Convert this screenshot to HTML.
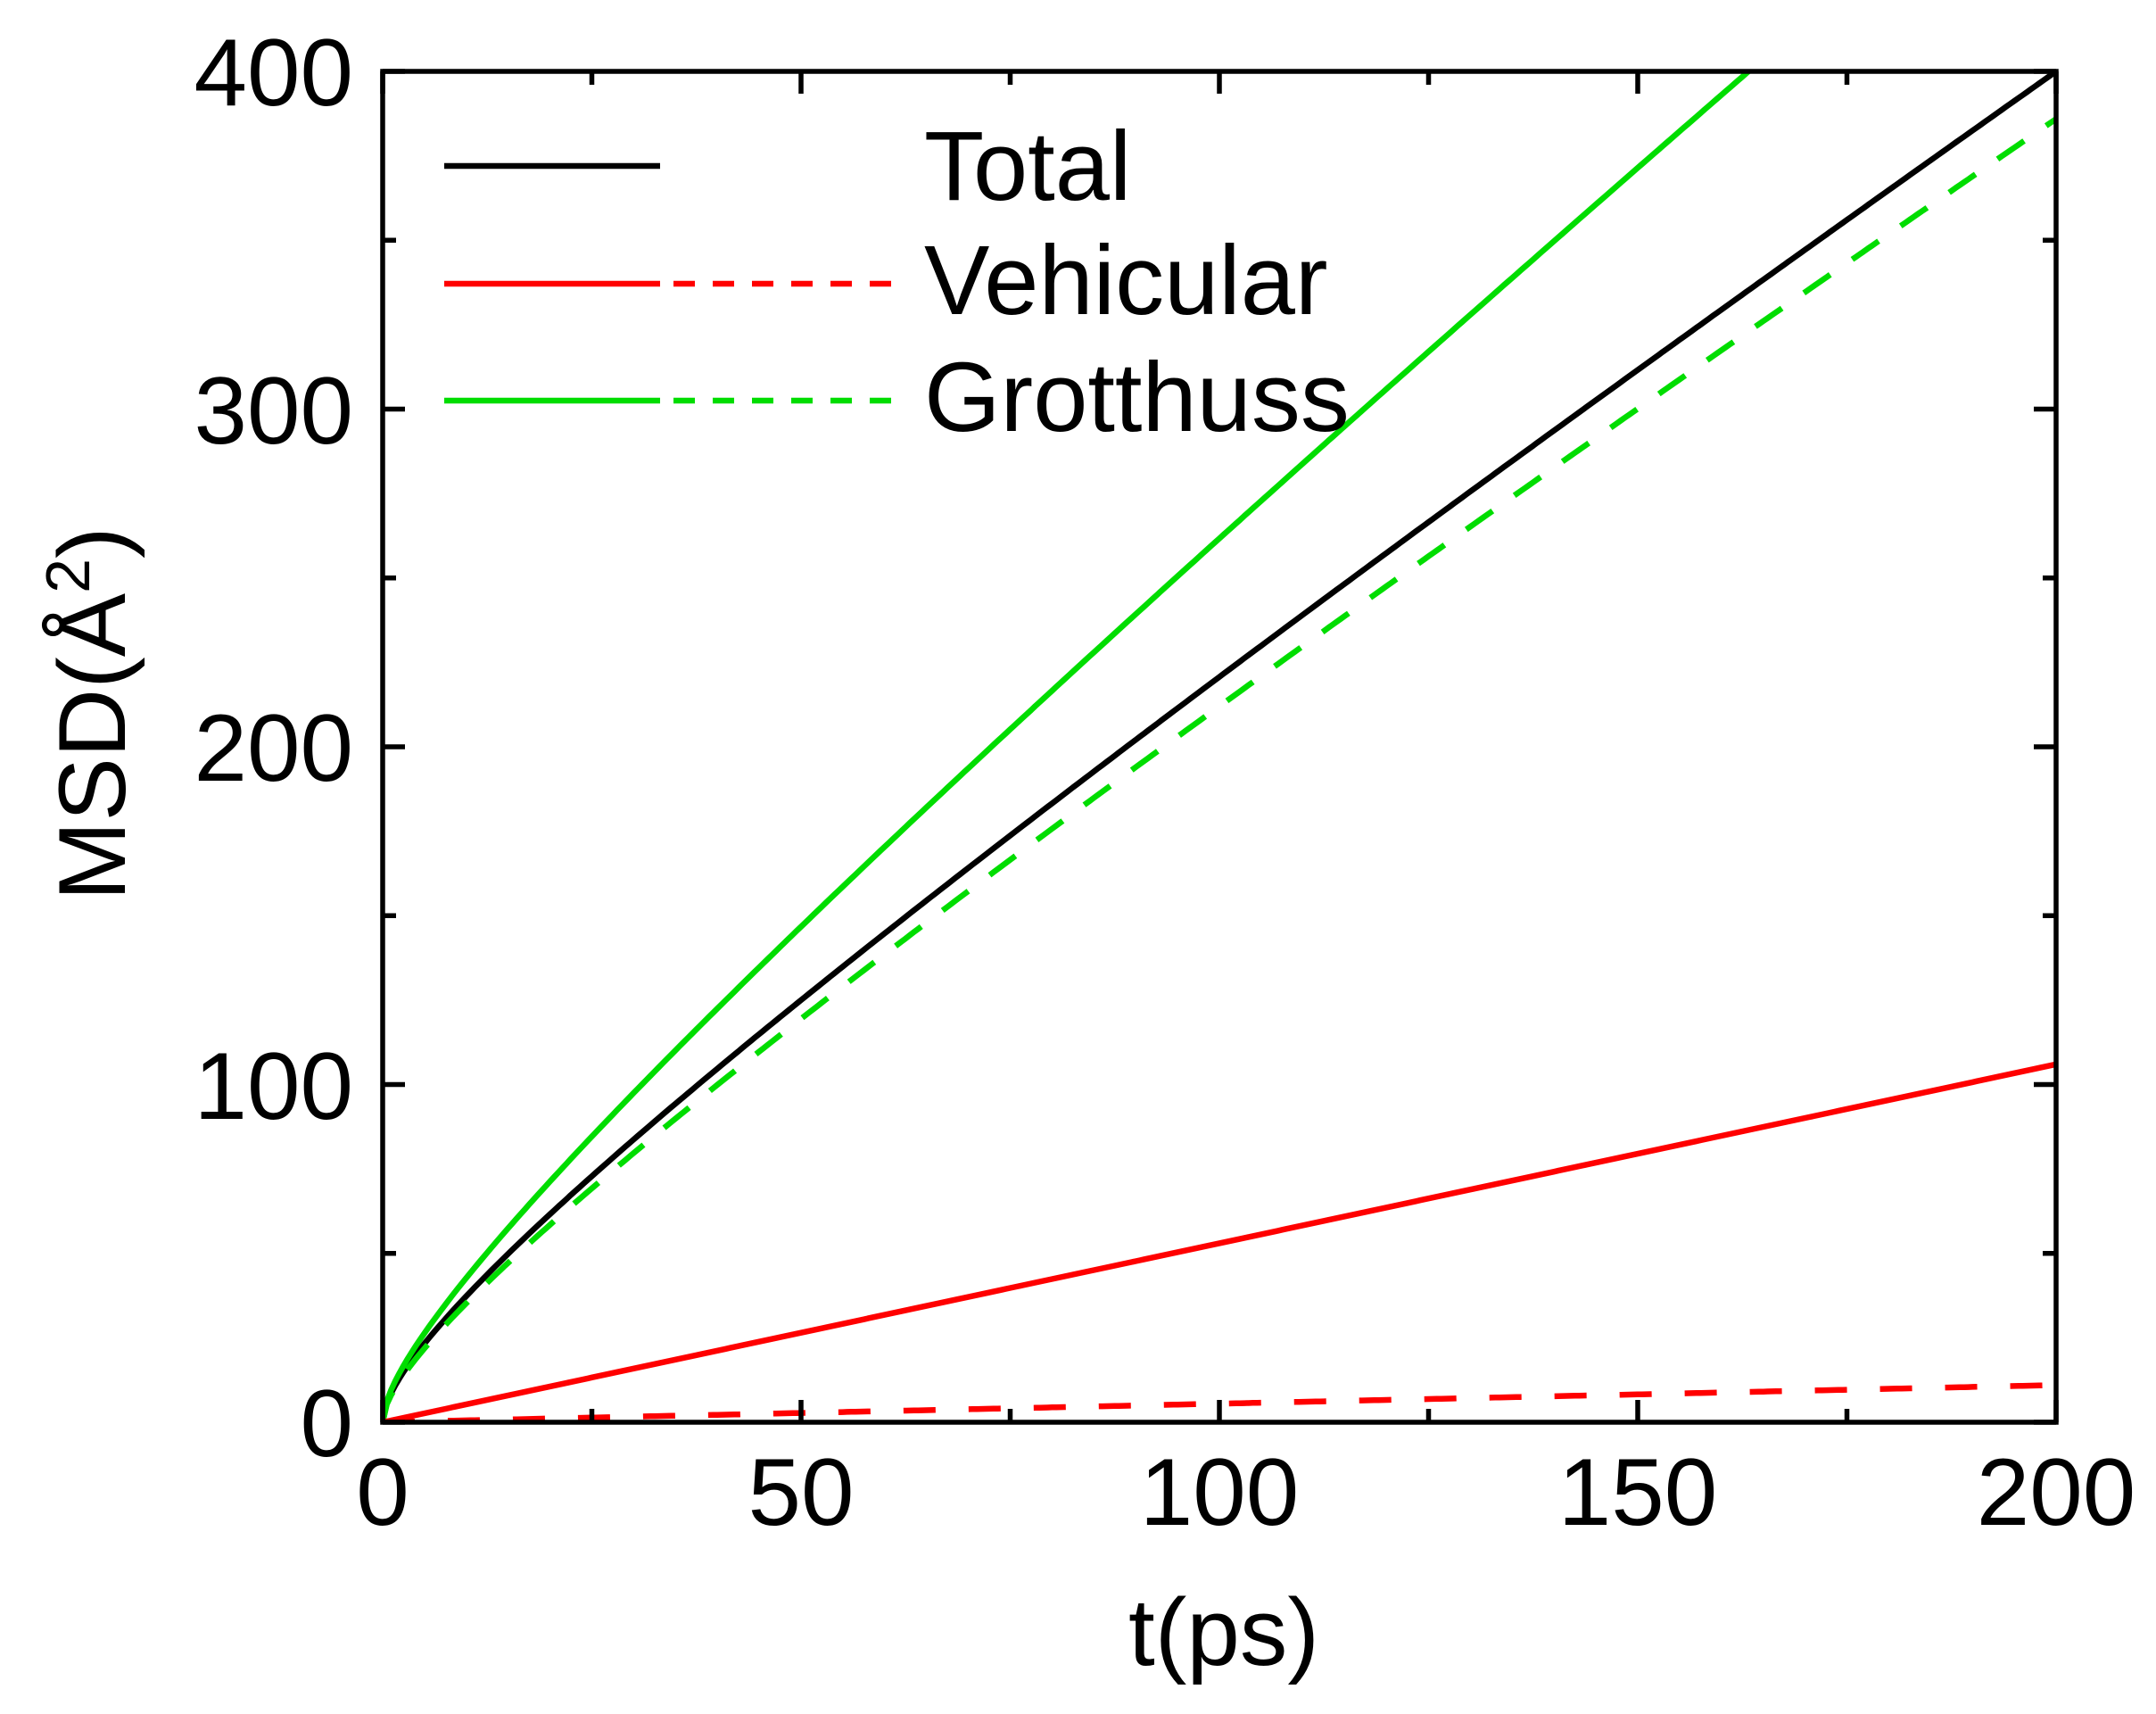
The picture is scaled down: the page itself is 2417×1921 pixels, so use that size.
<!DOCTYPE html>
<html><head><meta charset="utf-8"><style>html,body{margin:0;padding:0;background:#fff}svg{display:block}</style></head>
<body>
<svg width="2417" height="1921" viewBox="0 0 2417 1921" xmlns="http://www.w3.org/2000/svg" font-family="Liberation Sans, Arial, sans-serif">
<rect width="2417" height="1921" fill="#fff"/>
<defs><clipPath id="c"><rect x="429" y="80" width="1876" height="1514"/></clipPath></defs>
<g clip-path="url(#c)" fill="none" stroke-width="6.5" stroke-linejoin="round">
<polyline id="tot" stroke="#000" points=""/>
<polyline id="gs" stroke="#00dd00" points=""/>
<polyline id="gd" stroke="#00dd00" stroke-dasharray="36,30" points=""/>
<polyline id="rs" stroke="#ff0000" points=""/>
<polyline id="rd" stroke="#ff0000" stroke-dasharray="36,37" points=""/>
</g>
<g stroke="#000" stroke-width="5.5" fill="none">
<rect x="429" y="80" width="1876" height="1514"/>
<path id="ticks" d=""/>
</g>
<g font-size="107" fill="#000" text-anchor="end">
<text x="396" y="1632">0</text>
<text x="396" y="1254">100</text>
<text x="396" y="875">200</text>
<text x="396" y="497">300</text>
<text x="396" y="118">400</text>
</g>
<g font-size="107" fill="#000" text-anchor="middle">
<text x="429" y="1709">0</text>
<text x="898" y="1709">50</text>
<text x="1367" y="1709">100</text>
<text x="1836" y="1709">150</text>
<text x="2305" y="1709">200</text>
<text x="1372" y="1866">t(ps)</text>
</g>
<text transform="translate(140,800) rotate(-90)" font-size="107" text-anchor="middle" fill="#000">MSD(Å<tspan dy="-40" font-size="70">2</tspan><tspan dy="40">)</tspan></text>
<g stroke-width="6.5">
<line x1="498" y1="186" x2="740" y2="186" stroke="#000"/>
<line x1="498" y1="318" x2="740" y2="318" stroke="#ff0000"/>
<line x1="755" y1="318" x2="1007" y2="318" stroke="#ff0000" stroke-dasharray="24,20"/>
<line x1="498" y1="449" x2="740" y2="449" stroke="#00dd00"/>
<line x1="755" y1="449" x2="1007" y2="449" stroke="#00dd00" stroke-dasharray="24,20"/>
</g>
<g font-size="110" fill="#000">
<text x="1036" y="224">Total</text>
<text x="1036" y="352">Vehicular</text>
<text x="1036" y="483">Grotthuss</text>
</g>
<script>
function X(t){return 429+t*9.38}function Y(v){return 1594-v*3.785}
function f(id,fn){var p=[];for(var i=0;i<=400;i++){var t=i/2;p.push(X(t).toFixed(1)+','+Y(fn(t)).toFixed(1));}document.getElementById(id).setAttribute('points',p.join(' '));}
f('tot',function(t){return 1.5*t+7.07*Math.sqrt(t)});
f('gs',function(t){return 1.85*t+7.67*Math.sqrt(t)});
f('gd',function(t){return 1.47*t+6.5*Math.sqrt(t)});
f('rs',function(t){return 0.53*t});
f('rd',function(t){return 0.055*t});
var d='';
for(var i=0;i<=8;i++){var t=i*25,x=X(t),L=(i%2==0)?25:15;d+='M'+x+' 1594v'+(-L)+'M'+x+' 80v'+L;}
for(var j=0;j<=8;j++){var v=j*50,y=Y(v),L=(j%2==0)?25:15;d+='M429 '+y+'h'+L+'M2305 '+y+'h'+(-L);}
document.getElementById('ticks').setAttribute('d',d);
</script>
</svg>
</body></html>
